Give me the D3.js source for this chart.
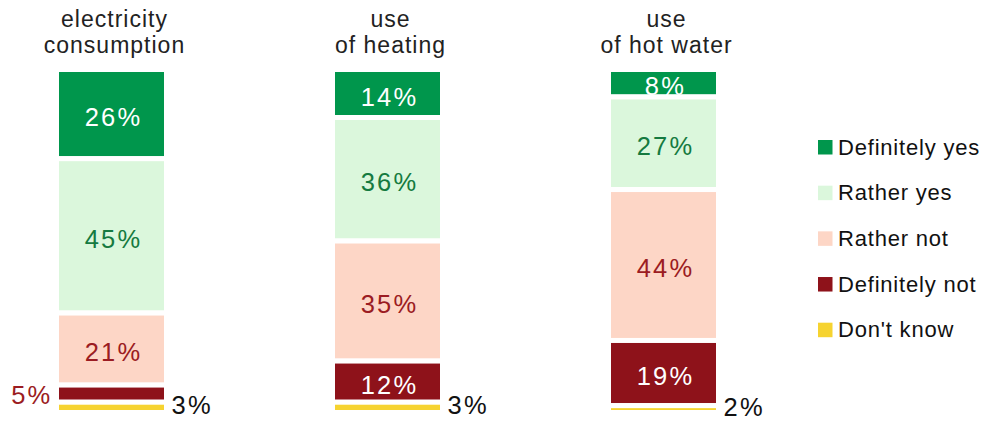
<!DOCTYPE html>
<html>
  <head>
    <meta charset="utf-8">
    <script src="https://cdn.jsdelivr.net/npm/d3@7"></script>
    <style>
      body { margin: 0; background: #fff; }
      text { font-family: "Liberation Sans", Arial, sans-serif; }
    </style>
  </head>
  <body>
    <div id="chart"></div>
    <script>
// stacked 100% bars, one per question, legend on the right
var width = 992;
var height = 421;

var categories = ["electricity consumption", "use of heating", "use of hot water"];
var titles = [["electricity", "consumption"], ["use", "of heating"], ["use", "of hot water"]];
var answers = ["Definitely yes", "Rather yes", "Rather not", "Definitely not", "Don't know"];

var definitelyYes = [26, 14, 8];
var ratherYes = [45, 36, 27];
var ratherNot = [21, 35, 44];
var definitelyNot = [5, 12, 19];
var dontKnow = [3, 3, 2];

var colors = ["#00964c", "#dbf7dc", "#fdd6c6", "#8e121a", "#f6d330"];
var labelColors = ["#ffffff", "#157a40", "#9b1c22", "#ffffff", "#111111"];

var series = [definitelyYes, ratherYes, ratherNot, definitelyNot, dontKnow];

// one row per bar
var rows = categories.map(function(c, i) {
  var r = { cat: c, title: titles[i] };
  answers.forEach(function(a, k) { r[a] = series[k][i]; });
  return r;
});

var stacked = d3.stack().keys(answers)(rows);

var x = d3.scalePoint().domain(categories).range([111.5, 663.5]);
var y = d3.scaleLinear().domain([0, 100]).range([69.5, 412.5]);
var color = d3.scaleOrdinal().domain(answers).range(colors);
var barW = 110;
var gap = 5;      // white separator between segments

var svg = d3.select("#chart").append("svg")
  .attr("width", width)
  .attr("height", height);

// bar titles
var t = svg.append("g").selectAll("text")
  .data(rows)
  .join("text")
  .attr("text-anchor", "middle")
  .attr("font-size", 23)
  .attr("letter-spacing", 1)
  .attr("fill", "#222");
t.selectAll("tspan")
  .data(d => d.title.map(l => ({ line: l, cat: d.cat })))
  .join("tspan")
  .attr("x", d => x(d.cat) + 3)
  .attr("y", (d, i) => 26.5 + i * 26)
  .text(d => d.line);

// segments
var layer = svg.append("g").selectAll("g")
  .data(stacked)
  .join("g")
  .attr("fill", d => color(d.key));

layer.selectAll("rect")
  .data(d => d)
  .join("rect")
  .attr("x", d => x(d.data.cat) - barW / 2)
  .attr("width", barW)
  .attr("y", d => y(d[0]))
  .attr("height", d => y(d[1]) - y(d[0]))
  .attr("stroke", "#fff")
  .attr("stroke-width", gap);

// value labels
var labels = [];
stacked.forEach(function(s, k) {
  s.forEach(function(d) {
    var v = d[1] - d[0];
    var mid = (y(d[0]) + y(d[1])) / 2;
    var cx = x(d.data.cat);
    var o = { text: v + "%", fill: labelColors[k], y: mid + 12, x: cx + 2, anchor: "middle" };
    if (v < 8) {
      if (s.key === "Don't know") {
        o.y = mid + 7;
        o.x = cx + barW / 2 + 5; o.anchor = "start"; o.fill = "#111";
      } else {
        o.y = mid + 10;
        o.x = cx - barW / 2 - 4; o.anchor = "end"; o.fill = "#9b1c22";
      }
    }
    labels.push(o);
  });
});

svg.append("g").selectAll("text")
  .data(labels)
  .join("text")
  .attr("x", d => d.x)
  .attr("y", d => d.y)
  .attr("text-anchor", d => d.anchor)
  .attr("font-size", 25.5)
  .attr("letter-spacing", 2.2)
  .attr("fill", d => d.fill)
  .text(d => d.text);

// legend
var ly = d3.scalePoint().domain(answers).range([140, 322.7]);
var legend = svg.append("g").selectAll("g")
  .data(answers)
  .join("g")
  .attr("transform", d => "translate(818," + ly(d) + ")");

legend.append("rect")
  .attr("width", 14.5)
  .attr("height", 14.5)
  .attr("fill", d => color(d));

legend.append("text")
  .attr("x", 20)
  .attr("y", 14.5)
  .attr("font-size", 22)
  .attr("letter-spacing", 0.8)
  .attr("fill", "#111")
  .text(d => d);
    </script>
  </body>
</html>
